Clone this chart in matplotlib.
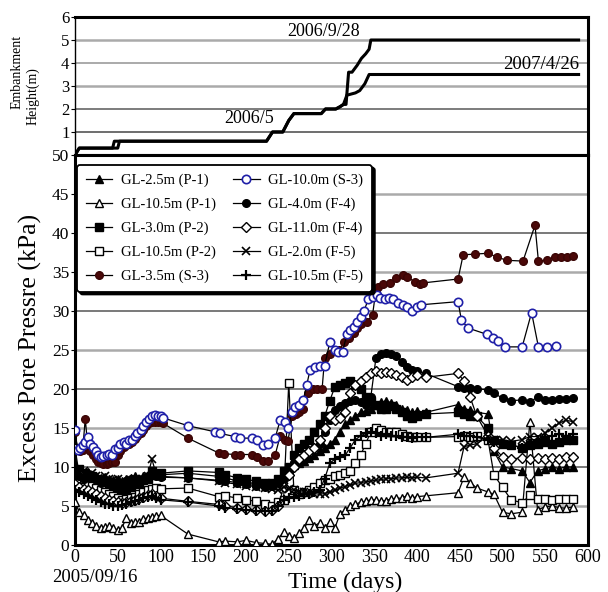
import matplotlib
matplotlib.use("Agg")
import matplotlib.pyplot as plt

plt.rcParams['font.family'] = ['Liberation Serif', 'DejaVu Serif']

# ---------------- data ----------------
# Embankment height (m) vs days
emb_a_days = [0, 5, 44, 46, 224, 231, 243, 250, 256, 288, 293, 305, 310, 314, 317, 320, 324, 330, 335, 340, 344, 346, 589]
emb_a_h = [0.0, 0.3, 0.3, 0.6, 0.6, 1.0, 1.0, 1.5, 1.8, 1.8, 2.0, 2.0, 2.1, 2.2, 2.2, 3.6, 3.6, 3.9, 4.2, 4.4, 4.6, 5.0, 5.0]
emb_b_days = [0, 5, 50, 52, 224, 231, 243, 250, 256, 288, 293, 305, 310, 314, 318, 328, 333, 339, 344, 589]
emb_b_h = [0.0, 0.3, 0.3, 0.6, 0.6, 1.0, 1.0, 1.5, 1.8, 1.8, 2.0, 2.0, 2.1, 2.2, 2.6, 2.7, 2.8, 3.1, 3.5, 3.5]

# S-3 series (own time axes)
s3_days_10 = [0, 3, 6, 9, 12, 15, 18, 21, 24, 27, 30, 33, 37, 40, 43, 47, 50, 53, 57, 60, 63, 67, 70, 73, 77, 80, 83, 87, 90, 93, 97, 100, 103,
              132, 164, 170, 187, 193, 207, 213, 220, 226, 234,
              240, 246, 249, 254, 257, 262, 267, 271, 275, 281, 287, 292, 298, 304, 308, 313, 318, 322, 326, 330, 334, 338, 343, 349, 353, 357, 362, 367, 372, 378, 384, 388, 394, 400, 405,
              448, 452, 460, 482, 489, 495, 503, 523, 534, 542, 552, 562]
s3_gl100 = [14.7, 12.2, 12.4, 12.8, 13.2, 13.9, 13.0, 12.6, 12.0, 11.6, 11.3, 11.4, 11.5, 11.7, 11.6, 12.3, 12.5, 13.0, 13.2, 13.0, 13.5, 13.5, 14.0, 14.3, 14.8, 15.3, 15.8, 16.2, 16.5, 16.7, 16.6, 16.6, 16.3,
            15.3, 14.5, 14.3, 13.9, 13.7, 13.7, 13.5, 12.8, 12.9, 13.7,
            16.0, 15.8, 15.0, 17.0, 17.7, 18.0, 18.6, 20.5, 22.5, 22.8, 23.0, 23.0, 26.0, 25.0, 24.8, 24.8, 27.0, 27.6, 28.0, 28.6, 29.2, 30.0, 31.5, 31.8, 32.0, 31.7, 31.5, 31.7, 31.5, 31.0, 30.8, 30.5, 30.0, 30.5, 30.8,
            31.2, 28.8, 27.8, 27.0, 26.5, 26.2, 25.4, 25.4, 29.8, 25.4, 25.4, 25.5]

s3_days_35 = [0, 3, 6, 9, 12, 15, 18, 21, 24, 27, 30, 33, 37, 40, 43, 47, 50, 53, 57, 60, 63, 67, 70, 73, 77, 80, 83, 87, 90, 93, 97, 100, 103,
              132, 168, 174, 187, 193, 207, 213, 220, 226, 234,
              240, 246, 249, 254, 258, 262, 267, 272, 278, 283, 289, 292, 298, 304, 309, 315, 320, 326, 330, 335, 341, 348, 352, 354, 360, 369, 375, 384, 388, 398, 403, 407,
              448, 454, 468, 483, 494, 505, 524, 538, 542, 552, 561, 568, 575, 582]
s3_gl35 = [14.5, 12.2, 12.0, 12.2, 16.2, 12.5, 12.0, 11.5, 11.0, 10.7, 10.5, 10.4, 10.4, 10.5, 10.6, 10.6, 11.5, 12.0, 12.6, 12.8, 13.0, 13.2, 13.6, 14.0, 14.4, 14.8, 15.2, 15.6, 15.8, 15.8, 15.8, 15.8, 15.6,
           13.7, 11.8, 11.7, 11.6, 11.6, 11.6, 11.3, 10.8, 10.8, 11.5,
           14.0, 13.5, 13.3, 16.5, 16.8, 17.0, 17.5, 19.5, 20.0, 20.0, 20.0, 24.0, 24.5, 25.0, 25.0, 26.0, 26.5, 27.2, 27.8, 28.3, 28.6, 29.5, 32.7, 33.1, 33.5, 33.6, 34.2, 34.6, 34.4, 33.7, 33.4, 33.6,
           34.1, 37.2, 37.3, 37.4, 36.9, 36.5, 36.4, 41.0, 36.4, 36.5, 36.9, 36.9, 36.9, 37.0]

# other gauges share this reading schedule
days = [0, 5, 10, 15, 20, 25, 30, 35, 40, 45, 50, 55, 60, 65, 70, 75, 80, 85, 90, 95, 100,
        132, 168, 176, 190, 200, 212, 222, 230, 238,
        244, 250, 256, 262, 268, 274, 280, 286, 292, 298, 304, 310, 316, 322, 328, 334, 340, 346, 352, 358, 364, 370, 376, 382, 388, 394, 400, 410,
        448, 455, 462, 470, 483, 490, 500, 510, 523, 532, 541, 550, 558, 566, 574, 583]

p1_gl25 = [9.8, 9.5, 9.2, 9.4, 9.0, 8.8, 8.6, 8.7, 8.4, 8.3, 8.5, 8.2, 8.4, 8.6, 8.9, 8.5, 8.8, 9.0, 9.3, 9.2, 9.0,
           9.2, 8.8, 8.6, 8.2, 8.0, 7.9, 7.8, 7.7, 8.3,
           9.0, 9.8, 10.2, 10.5, 10.8, 11.2, 11.5, 12.0, 12.5, 13.0, 13.5, 14.5, 15.5, 16.0, 16.5, 17.0, 17.2, 17.5, 18.0, 18.3, 18.5, 18.2, 18.0, 17.5, 17.3, 17.0, 17.2, 17.0,
           18.0, 17.5, 17.3, 17.0, 16.8, 12.0, 10.0, 9.8, 9.5, 8.0, 9.5, 9.8, 10.0, 9.8, 10.0, 10.0]
p1_gl105 = [5.5, 4.2, 3.8, 3.2, 2.8, 2.5, 2.2, 2.3, 2.4, 2.2, 1.9, 2.2, 3.5, 2.8, 2.9, 3.0, 3.3, 3.5, 3.6, 3.7, 3.8,
            1.4, 0.4, 0.5, 0.4, 0.6, 0.3, 0.2, 0.1, 0.8,
            1.7, 1.2, 0.9, 1.5, 2.2, 3.2, 2.5, 2.8, 2.2, 3.0, 2.2, 4.0, 4.5, 5.0, 5.2, 5.5, 5.6, 5.8, 5.8, 5.6, 5.7, 5.9, 6.0, 6.0, 6.3, 6.0, 6.2, 6.3,
            6.7, 8.7, 8.0, 7.3, 6.8, 6.5, 4.2, 4.0, 4.2, 15.8, 4.5, 4.9, 5.0, 4.8, 4.7, 4.9]
p2_gl30 = [9.5, 9.8, 9.2, 9.0, 8.8, 8.5, 8.2, 8.0, 7.8, 7.5, 7.2, 7.0, 7.2, 7.5, 7.8, 8.0, 8.3, 8.5, 9.5, 9.0, 9.2,
           9.5, 9.3, 9.0, 8.6, 8.4, 8.2, 8.0, 8.0, 8.5,
           9.5, 10.0, 11.5, 12.5, 13.0, 13.5, 14.5, 15.5, 16.5, 18.5, 20.3, 20.5, 20.8, 21.0, 20.5, 20.0, 19.0, 18.5, 18.0, 17.5, 17.5, 17.8, 17.5, 17.0, 16.5, 16.3, 16.5, 16.8,
           17.0, 16.8, 16.5, 16.5, 15.0, 13.5, 13.0, 12.8, 12.5, 12.8, 13.0, 13.2, 13.0, 13.2, 13.5, 13.5]
p2_gl105 = [12.4, 9.0, 8.5, 8.0, 7.6, 7.3, 7.0, 6.8, 6.5, 6.3, 6.0, 5.8, 5.9, 6.0, 6.2, 6.5, 6.8, 7.0, 7.2, 7.3, 7.2,
            7.3, 6.2, 6.3, 6.0, 5.8, 5.6, 5.3, 5.0, 5.5,
            5.8, 20.8, 7.0, 6.5, 6.8, 7.0, 7.5, 8.0, 8.3, 8.5, 8.8, 9.0, 9.2, 9.5, 10.5, 11.5, 13.0, 14.5, 15.0, 14.8, 14.5, 14.5, 14.5, 14.2, 14.0, 13.8, 13.8, 13.8,
            13.9, 14.0, 13.8, 14.0, 13.5, 9.0, 7.4, 5.8, 5.4, 6.4, 5.9, 5.9, 5.8, 5.9, 5.9, 5.9]
f4_gl40 = [9.0, 8.8, 8.5, 8.7, 8.6, 8.3, 8.0, 8.2, 8.0, 7.8, 7.9, 8.0, 8.2, 8.4, 8.5, 8.3, 8.5, 8.8, 9.0, 8.8, 8.7,
           8.6, 8.3, 8.2, 8.0, 7.8, 7.6, 7.5, 7.6, 8.0,
           8.5, 9.5, 10.5, 11.0, 11.5, 12.0, 12.5, 13.0, 14.5, 16.0, 17.3, 17.8, 18.2, 18.5, 18.6, 18.3, 18.0, 19.0, 24.0, 24.5, 24.6, 24.5, 24.2, 23.5, 22.8, 22.5, 22.3, 22.0,
           20.3, 20.1, 20.1, 20.0, 19.9, 19.5, 18.8, 18.5, 18.6, 18.3, 19.0, 18.6, 18.6, 18.7, 18.7, 18.8]
f4_gl110 = [7.8, 7.5, 7.2, 7.0, 6.8, 6.5, 6.3, 6.0, 5.8, 5.6, 5.5, 5.4, 5.5, 5.6, 5.8, 6.0, 6.2, 6.4, 6.5, 6.3, 6.0,
            5.6, 5.2, 5.0, 4.8, 4.6, 4.5, 4.4, 4.5, 5.0,
            7.5, 9.0, 10.0, 11.0, 11.5, 12.0, 12.5, 13.5, 15.0, 16.5, 16.0, 16.3, 17.0, 19.5, 20.5, 21.0, 21.5, 22.0, 22.3, 22.0, 22.2, 22.0, 21.8, 21.5, 21.2, 21.5, 21.8, 21.5,
            22.0, 21.0, 19.0, 16.5, 14.0, 12.5, 11.3, 11.0, 11.2, 11.0, 11.2, 11.0, 11.2, 11.0, 11.3, 11.3]
f5_gl20 = [9.5, 9.3, 9.5, 9.0, 9.2, 8.8, 8.6, 8.8, 8.5, 8.3, 8.5, 8.2, 8.0, 8.3, 8.5, 8.2, 8.5, 8.8, 11.0, 9.0, 8.8,
           8.6, 8.2, 8.0, 7.8, 7.6, 7.5, 7.3, 7.2, 7.0,
           7.5, 7.2, 7.0, 6.8, 6.8, 6.7, 6.6, 6.5, 6.6, 6.8, 7.0, 7.3, 7.5, 7.7, 7.9, 8.0, 8.1, 8.2, 8.3, 8.4, 8.5, 8.5, 8.6, 8.6, 8.7, 8.6, 8.7, 8.6,
           9.2, 12.6, 12.8, 13.0, 13.9, 13.5, 13.5, 13.3, 13.5, 13.9, 13.9, 14.3, 15.0, 15.6, 16.0, 15.8]
f5_gl105 = [7.0, 6.8, 6.5, 6.3, 6.0, 5.8, 5.5, 5.3, 5.2, 5.0, 5.0, 5.1, 5.3, 5.5, 5.6, 5.8, 6.0, 6.2, 6.3, 6.0, 5.8,
            5.5, 5.0, 4.8, 4.6, 4.5, 4.4, 4.3, 4.4, 5.0,
            5.8, 6.0, 6.2, 6.3, 6.5, 6.6, 6.8, 7.0, 8.5, 10.5, 11.0, 11.3, 11.5, 12.5, 13.5, 14.0, 14.3, 14.5, 14.3, 14.0, 14.2, 14.0, 14.0, 13.8, 13.8, 13.7, 13.8, 13.8,
            14.2, 14.0, 14.0, 13.8, 13.5, 13.2, 13.0, 12.8, 12.5, 13.0, 13.5, 13.8, 14.0, 14.2, 14.0, 14.2]

x_ticks = [0, 50, 100, 150, 200, 250, 300, 350, 400, 450, 500, 550, 600]

# ---------------- figure ----------------
W, H = 608, 592
fig = plt.figure(figsize=(W / 100, H / 100), dpi=100)
L, R = 75 / W, 588 / W
y_top_top, y_split, y_bot = 1 - 17 / H, 1 - 155 / H, 1 - 545 / H
ax_t = fig.add_axes([L, y_split, R - L, y_top_top - y_split])
ax = fig.add_axes([L, y_bot, R - L, y_split - y_bot])

# --- top panel ---
ax_t.set_xlim(0, 600)
ax_t.set_ylim(0, 6)
for lvl, c, lw in [(1, '#555555', 1.2), (2, '#666666', 1.2), (3, '#aaaaaa', 1.8), (4, '#aaaaaa', 1.4), (5, '#aaaaaa', 1.8)]:
    ax_t.axhline(lvl, color=c, lw=lw, zorder=0)
ax_t.plot(emb_a_days, emb_a_h, color='k', lw=2.2, zorder=3)
ax_t.plot(emb_b_days, emb_b_h, color='k', lw=2.2, zorder=3)
ax_t.set_yticks([1, 2, 3, 4, 5, 6])
ax_t.set_xticks([])
ax_t.tick_params(axis='y', direction='out', length=3, labelsize=12, pad=1)
ax_t.spines['left'].set_linewidth(1.0)
ax_t.spines['top'].set_linewidth(2.2)
ax_t.spines['right'].set_linewidth(2.2)
ax_t.spines['bottom'].set_linewidth(2.2)
ax_t.text(291, 5.02, '2006/9/28', fontsize=13, ha='center', va='bottom')
ax_t.text(590, 3.95, '2007/4/26', fontsize=13.5, ha='right', va='center')
ax_t.text(204, 1.6, '2006/5', fontsize=13, ha='center', va='center')

# --- main panel ---
ax.set_xlim(0, 600)
ax.set_ylim(0, 50)
for lvl in range(5, 50, 5):
    if lvl % 10 == 0:
        ax.axhline(lvl, color='#555555', lw=1.1, zorder=0)
    else:
        ax.axhline(lvl, color='#aaaaaa', lw=1.8, zorder=0)

ms = 5.5
ax.plot(days, p1_gl25, color='k', lw=0.9, marker='^', ms=ms, mfc='k', mec='k', label='GL-2.5m (P-1)', zorder=3)
ax.plot(days, p1_gl105, color='k', lw=0.9, marker='^', ms=ms, mfc='white', mec='k', label='GL-10.5m (P-1)', zorder=3)
ax.plot(days, p2_gl30, color='k', lw=0.9, marker='s', ms=ms, mfc='k', mec='k', label='GL-3.0m (P-2)', zorder=3)
ax.plot(days, p2_gl105, color='k', lw=0.9, marker='s', ms=ms, mfc='white', mec='k', label='GL-10.5m (P-2)', zorder=3)
ax.plot(s3_days_35, s3_gl35, color='k', lw=0.9, marker='o', ms=ms, mfc='#4a0808', mec='#3a0505', label='GL-3.5m (S-3)', zorder=4)
ax.plot(s3_days_10, s3_gl100, color='k', lw=0.9, marker='o', ms=ms + 0.5, mfc='white', mec='#1f1fa8', mew=1.2, label='GL-10.0m (S-3)', zorder=5)
ax.plot(days, f4_gl40, color='k', lw=0.9, marker='o', ms=ms, mfc='k', mec='k', label='GL-4.0m (F-4)', zorder=3)
ax.plot(days, f4_gl110, color='k', lw=0.9, marker='D', ms=ms - 0.5, mfc='white', mec='k', label='GL-11.0m (F-4)', zorder=3)
ax.plot(days, f5_gl20, color='k', lw=0.9, marker='x', ms=ms + 0.5, mec='k', mew=1.2, label='GL-2.0m (F-5)', zorder=3)
ax.plot(days, f5_gl105, color='k', lw=0.9, marker='+', ms=ms + 1.5, mec='k', mew=1.6, label='GL-10.5m (F-5)', zorder=3)

ax.set_xticks(x_ticks)
ax.set_yticks(range(0, 51, 5))
ax.tick_params(axis='y', direction='out', length=3, labelsize=12.5, pad=1)
ax.tick_params(axis='x', length=0, labelsize=13, pad=3)
for s in ax.spines.values():
    s.set_linewidth(2.2)

leg = ax.legend(loc='upper left', bbox_to_anchor=(0.004, 0.975), borderaxespad=0, ncol=2,
                fontsize=10.5, handlelength=1.8, handletextpad=0.6, columnspacing=1.2,
                labelspacing=0.72, borderpad=0.6, fancybox=True, framealpha=1,
                shadow={'color': 'k', 'alpha': 1})
leg.get_frame().set_edgecolor('k')
leg.get_frame().set_linewidth(1.3)
leg.set_zorder(10)

fig.text(30 / W, 1 - 348 / H, 'Excess Pore Pressre (kPa)', rotation=90, fontsize=18.5, ha='center', va='center')
fig.text(17 / W, 1 - 72 / H, 'Embankment', rotation=90, fontsize=10, ha='center', va='center')
fig.text(33 / W, 1 - 96 / H, 'Height(m)', rotation=90, fontsize=10, ha='center', va='center')
fig.text(345 / W, 1 - 582 / H, 'Time (days)', fontsize=17, ha='center', va='center')
fig.text(95 / W, 1 - 578 / H, '2005/09/16', fontsize=13.5, ha='center', va='center')

fig.savefig('out.png', dpi=100)
